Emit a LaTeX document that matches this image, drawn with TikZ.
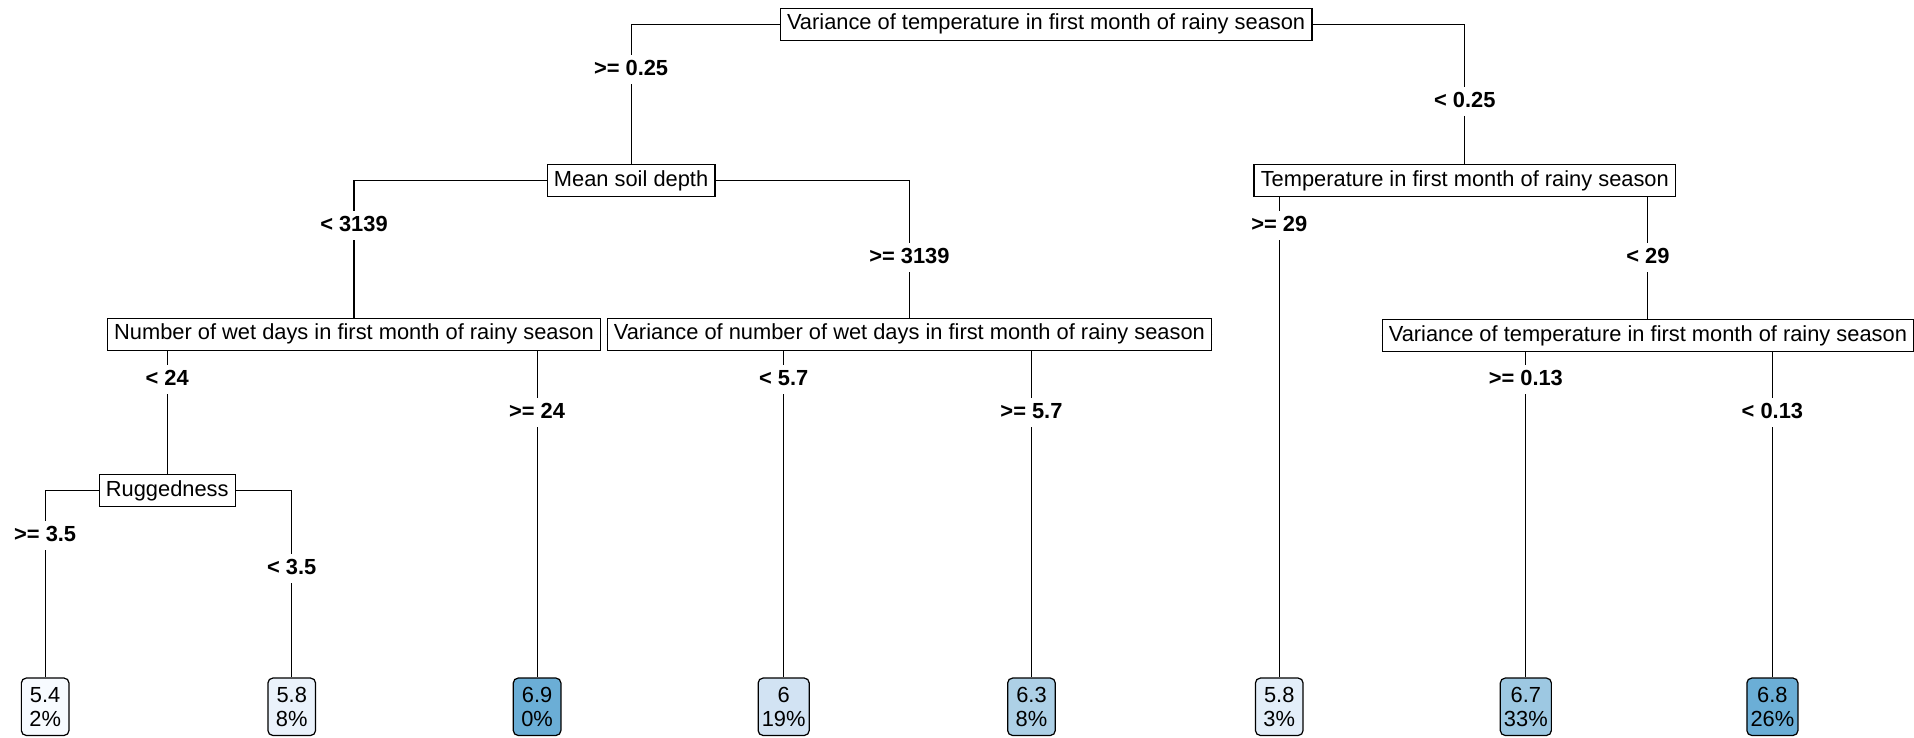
\documentclass[tikz,border=0pt]{standalone}
\usepackage{fontspec}
\setmainfont{Liberation Sans}
\usepackage{tikz}
\usetikzlibrary{positioning}
\usetikzlibrary{backgrounds}

\definecolor{lf54}{HTML}{F7FBFF}
\definecolor{lf58a}{HTML}{EAF2FB}
\definecolor{lf69}{HTML}{6BAED6}
\definecolor{lf60}{HTML}{D2E3F3}
\definecolor{lf63}{HTML}{ADD0E6}
\definecolor{lf58b}{HTML}{E3EEF9}
\definecolor{lf67}{HTML}{9DC8E2}
\definecolor{lf68}{HTML}{6BAED6}

\begin{document}
\begin{tikzpicture}[
  x=1pt, y=-1pt,
  every node/.style={font=\fontsize{17.9}{20}\selectfont},
  split/.style={rectangle, draw, line width=1pt, fill=white, inner xsep=5.5pt, inner ysep=5pt,
                text height=12.5pt, text depth=3.5pt},
  cond/.style={font=\fontsize{17.9}{20}\selectfont\bfseries, inner xsep=2pt, inner ysep=4pt,
               text height=12.5pt, text depth=3pt},
  leaf/.style={rectangle, rounded corners=4pt, draw, line width=1pt, align=center,
               minimum width=39pt, minimum height=47pt, inner xsep=3pt, inner ysep=2pt},
  edge/.style={line width=0.9pt}
]
\useasboundingbox (0,0) rectangle (1568,604);

% ---------- Split nodes ----------
\node[split] (root) at (857,20) {Variance of temperature in first month of rainy season};
\node[split] (msd) at (517,148) {Mean soil depth};
\node[split] (tmp) at (1200,148) {Temperature in first month of rainy season};
\node[split] (nwd) at (290,274) {Number of wet days in first month of rainy season};
\node[split] (vnw) at (745,274) {Variance of number of wet days in first month of rainy season};
\node[split] (vtt) at (1350,275) {Variance of temperature in first month of rainy season};
\node[split] (rug) at (137,402) {Ruggedness};

% ---------- Split conditions ----------
\node[cond] (c1l) at (517,57) {>= 0.25};
\node[cond] (c1r) at (1200,83) {< 0.25};
\node[cond] (c2l) at (290,185) {< 3139};
\node[cond] (c2r) at (745,211) {>= 3139};
\node[cond] (c3l) at (1048,185) {>= 29};
\node[cond] (c3r) at (1350,211) {< 29};
\node[cond] (c4l) at (137,311) {< 24};
\node[cond] (c4r) at (440,338) {>= 24};
\node[cond] (c5l) at (642,311) {< 5.7};
\node[cond] (c5r) at (845,338) {>= 5.7};
\node[cond] (c6l) at (1250,311) {>= 0.13};
\node[cond] (c6r) at (1452,338) {< 0.13};
\node[cond] (c7l) at (37,439) {>= 3.5};
\node[cond] (c7r) at (239,466) {< 3.5};

% ---------- Leaves ----------
\node[leaf, fill=lf54] (l1) at (37,579) {5.4\\2\%};
\node[leaf, fill=lf58a] (l2) at (239,579) {5.8\\8\%};
\node[leaf, fill=lf69] (l3) at (440,579) {6.9\\0\%};
\node[leaf, fill=lf60] (l4) at (642,579) {6\\19\%};
\node[leaf, fill=lf63] (l5) at (845,579) {6.3\\8\%};
\node[leaf, fill=lf58b] (l6) at (1048,579) {5.8\\3\%};
\node[leaf, fill=lf67] (l7) at (1250,579) {6.7\\33\%};
\node[leaf, fill=lf68] (l8) at (1452,579) {6.8\\26\%};

% ---------- Branches ----------
\begin{scope}[on background layer]
\draw[edge] (root) -| (c1l);  \draw[edge] (c1l) -- (msd);
\draw[edge] (root) -| (c1r);  \draw[edge] (c1r) -- (tmp);
\draw[edge] (msd) -| (c2l);   \draw[edge] (c2l) -- (nwd);
\draw[edge] (msd) -| (c2r);   \draw[edge] (c2r) -- (vnw);
\draw[edge] (tmp) -| (c3l);   \draw[edge] (c3l) -- (l6);
\draw[edge] (tmp) -| (c3r);   \draw[edge] (c3r) -- (vtt);
\draw[edge] (nwd) -| (c4l);   \draw[edge] (c4l) -- (rug);
\draw[edge] (nwd) -| (c4r);   \draw[edge] (c4r) -- (l3);
\draw[edge] (vnw) -| (c5l);   \draw[edge] (c5l) -- (l4);
\draw[edge] (vnw) -| (c5r);   \draw[edge] (c5r) -- (l5);
\draw[edge] (vtt) -| (c6l);   \draw[edge] (c6l) -- (l7);
\draw[edge] (vtt) -| (c6r);   \draw[edge] (c6r) -- (l8);
\draw[edge] (rug) -| (c7l);   \draw[edge] (c7l) -- (l1);
\draw[edge] (rug) -| (c7r);   \draw[edge] (c7r) -- (l2);
\end{scope}

\end{tikzpicture}
\end{document}
